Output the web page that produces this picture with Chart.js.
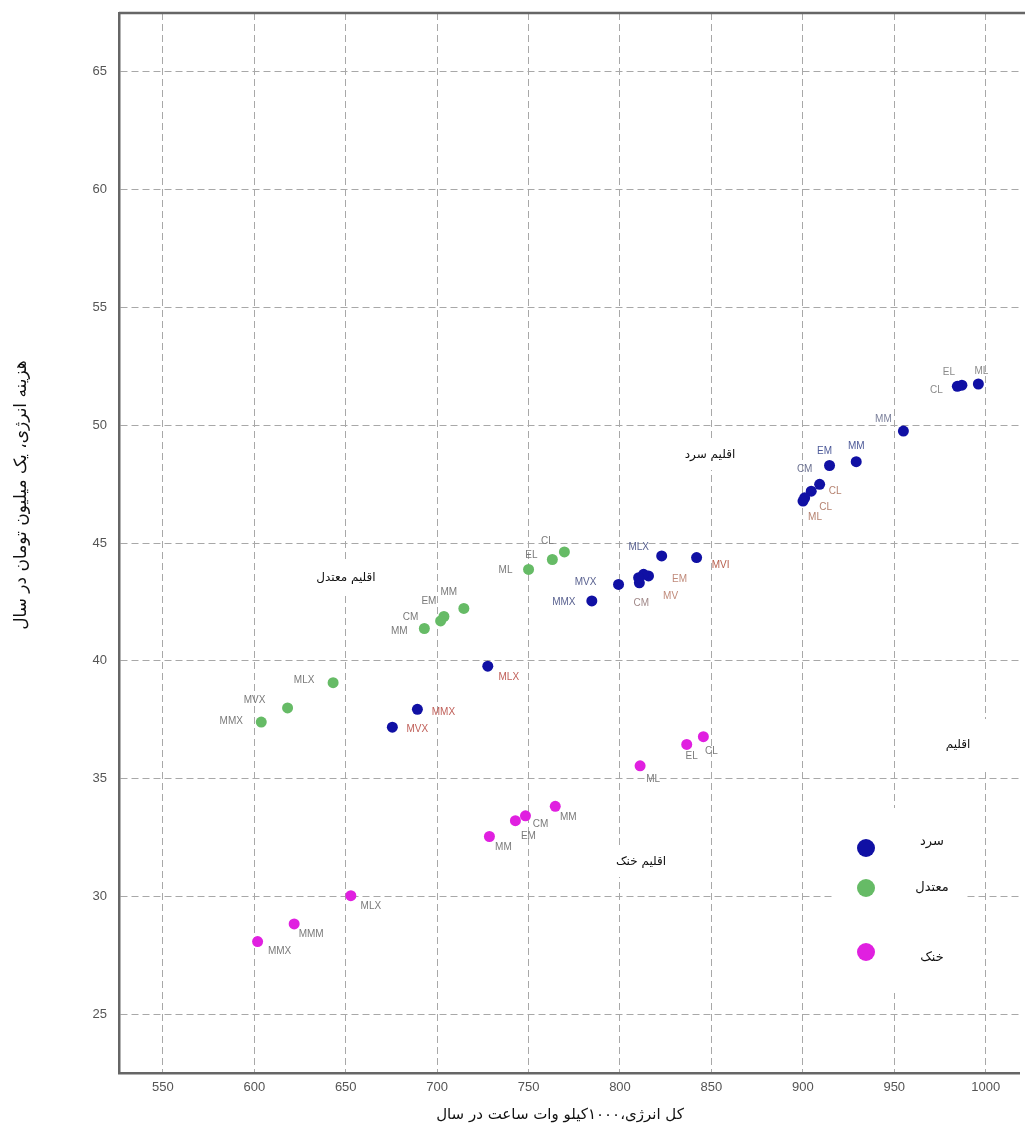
<!DOCTYPE html>
<html>
<head>
<meta charset="utf-8">
<script src="https://cdn.jsdelivr.net/npm/chart.js@4.4.0/dist/chart.umd.min.js"></script>
<style>
html,body{margin:0;padding:0;background:#fff;}
canvas{display:block;}
</style>
</head>
<body>
<canvas id="c" width="1025" height="1137"></canvas>
<script>
// ---- data ----
const xTicks = [550, 600, 650, 700, 750, 800, 850, 900, 950, 1000];
const yTicks = [25, 30, 35, 40, 45, 50, 55, 60, 65];

const seriesNames = ["سرد", "معتدل", "خنک"];

const coldX = [996, 987, 984.5, 955, 929.2, 914.6, 909.2, 904.6, 901, 900.1, 822.8, 841.9, 815.6, 812.9, 810.6, 810.2, 799.2, 784.6, 727.7, 689.2, 675.5];
const coldY = [51.75, 51.7, 51.65, 49.75, 48.45, 48.29, 47.49, 47.2, 46.92, 46.78, 44.45, 44.38, 43.6, 43.67, 43.31, 43.53, 43.24, 42.54, 39.77, 37.94, 37.18];
const coldLabels = ["ML", "EL", "CL", "MM", "MM", "EM", "CM", "CL", "CL", "ML", "MLX", "MVI", "EM", "MV", "CM", "", "MVX", "MMX", "MLX", "MMX", "MVX"];

const tempX = [769.6, 763, 750, 714.6, 703.7, 701.9, 693, 643.1, 618.2, 603.8];
const tempY = [44.62, 44.3, 43.88, 42.22, 41.88, 41.69, 41.37, 39.07, 38.0, 37.4];
const tempLabels = ["CL", "EL", "ML", "MM", "EM", "CM", "MM", "MLX", "MVX", "MMX"];

const coolX = [845.6, 836.5, 811, 764.6, 748.3, 742.8, 728.6, 652.8, 621.8, 601.8];
const coolY = [36.78, 36.45, 35.54, 33.82, 33.42, 33.21, 32.54, 30.03, 28.83, 28.08];
const coolLabels = ["CL", "EL", "ML", "MM", "CM", "EM", "MM", "MLX", "MMM", "MMX"];

const xTitle = "کل انرژی،۱۰۰۰کیلو وات ساعت در سال";
const yTitle = "هزینه انرژی، یک میلیون تومان در سال";
const legendTitle = "اقلیم";
const noteCold = "اقلیم سرد";
const noteTemp = "اقلیم معتدل";
const noteCool = "اقلیم خنک";

// ---- styles (label offsets in px, colours) ----
const coldOffsets = [[3,-13],[-13,-13],[-21,4],[-20,-12],[0,-15],[-5,-14],[-15,-15],[24,0],[21,9],[12,16],[-23,-9],[24,8],[31,3],[27,22],[2,20],[0,0],[-33,-2],[-28,1],[21,11],[26,3],[25,2]];
const coldLabelColors = ["#8a8a8a","#8a8a8a","#8a8a8a","#7a7f9a","#4d5a99","#4d5a99","#6a7090","#b58270","#b58270","#b58270","#5a6290","#b8604e","#c08a7a","#c08a7a","#a08888","#888","#5a6290","#5a6290","#c0605a","#c0605a","#c0605a"];
const tempOffsets = [[-17,-11],[-21,-4],[-23,1],[-15,-16],[-15,-15],[-30,-4],[-25,3],[-29,-2],[-33,-8],[-30,-1]];
const coolOffsets = [[8,15],[5,12],[13,13],[13,11],[15,8],[13,16],[14,11],[20,11],[17,10],[22,10]];

const colors = ["#1010a4", "#66bb66", "#e020e0"];

function pts(xs, ys){ return xs.map((x,i)=>({x:x, y:ys[i]})); }

const labelInfo = [
  {labels: coldLabels, offsets: coldOffsets, colors: coldLabelColors},
  {labels: tempLabels, offsets: tempOffsets, colors: null},
  {labels: coolLabels, offsets: coolOffsets, colors: null}
];

const PF = "'DejaVu Sans', sans-serif";

function whiteBoxText(ctx, text, cx, cy, w, h, size){
  ctx.save();
  ctx.fillStyle = "#fff";
  ctx.fillRect(cx - w/2, cy - h/2, w, h);
  ctx.fillStyle = "#111";
  ctx.font = size + "px " + PF;
  ctx.textAlign = "center";
  ctx.textBaseline = "middle";
  ctx.direction = "rtl";
  ctx.fillText(text, cx, cy);
  ctx.restore();
}

const decor = {
  id: "decor",
  beforeDraw(chart){
    const ctx = chart.ctx;
    ctx.save();
    ctx.fillStyle = "#fff";
    ctx.fillRect(0,0,chart.width,chart.height);
    ctx.restore();
  },
  beforeDatasetsDraw(chart){
    const ctx = chart.ctx;
    const a = chart.chartArea;
    ctx.save();
    ctx.strokeStyle = "#666";
    ctx.lineWidth = 2.5;
    ctx.beginPath();
    ctx.moveTo(a.left, a.top);
    ctx.lineTo(chart.width, a.top);
    ctx.stroke();
    ctx.restore();
    whiteBoxText(ctx, noteCold, 710, 455, 96, 30, 12);
    whiteBoxText(ctx, noteTemp, 346, 578, 96, 30, 12);
    whiteBoxText(ctx, noteCool, 641, 862, 90, 30, 12);
    whiteBoxText(ctx, legendTitle, 958, 745, 120, 52, 12);
    ctx.save();
    ctx.fillStyle = "#fff";
    ctx.fillRect(833, 808, 134, 185);
    const ly = [848, 888, 952];
    const ty = [842, 888, 958];
    for (let i = 0; i < 3; i++){
      ctx.beginPath();
      ctx.fillStyle = colors[i];
      ctx.arc(866, ly[i], 9, 0, Math.PI*2);
      ctx.fill();
      ctx.fillStyle = "#111";
      ctx.font = "13px " + PF;
      ctx.textAlign = "center";
      ctx.textBaseline = "middle";
      ctx.direction = "rtl";
      ctx.fillText(seriesNames[i], 932, ty[i]);
    }
    ctx.restore();
  },
  afterDatasetsDraw(chart){
    const ctx = chart.ctx;
    ctx.save();
    ctx.font = "10px 'Liberation Sans', sans-serif";
    ctx.textAlign = "center";
    ctx.textBaseline = "middle";
    chart.data.datasets.forEach((ds, di) => {
      const meta = chart.getDatasetMeta(di);
      const info = labelInfo[di];
      meta.data.forEach((el, i) => {
        const t = info.labels[i];
        if (!t) return;
        const o = info.offsets[i];
        ctx.fillStyle = info.colors ? info.colors[i] : "#7a7a7a";
        ctx.fillText(t, el.x + o[0], el.y + o[1]);
      });
    });
    ctx.restore();
    ctx.save();
    ctx.fillStyle = "#111";
    ctx.textAlign = "center";
    ctx.textBaseline = "middle";
    ctx.direction = "rtl";
    ctx.font = "15px " + PF;
    ctx.fillText(xTitle, 560, 1115);
    ctx.font = "17px " + PF;
    ctx.translate(22, 495);
    ctx.rotate(-Math.PI/2);
    ctx.fillText(yTitle, 0, 0);
    ctx.restore();
  }
};

new Chart(document.getElementById("c"), {
  type: "scatter",
  data: {
    datasets: [
      {label: seriesNames[0], data: pts(coldX, coldY), backgroundColor: colors[0], borderWidth: 0, pointRadius: 5.5},
      {label: seriesNames[1], data: pts(tempX, tempY), backgroundColor: colors[1], borderWidth: 0, pointRadius: 5.5},
      {label: seriesNames[2], data: pts(coolX, coolY), backgroundColor: colors[2], borderWidth: 0, pointRadius: 5.5}
    ]
  },
  options: {
    responsive: false,
    animation: false,
    layout: {padding: {top: 13, right: 2, left: 0, bottom: 0}},
    plugins: {legend: {display: false}, tooltip: {enabled: false}},
    scales: {
      x: {
        type: "linear",
        min: 526, max: 1018.5,
        afterBuildTicks(s){ s.ticks = xTicks.map(v => ({value: v})); },
        afterFit(s){ s.height = 64; s.paddingLeft = 0; s.paddingRight = 0; },
        grid: {color: "#a8a8a8", lineWidth: 1, drawTicks: false},
        border: {display: true, color: "#666", width: 2.5, dash: [7, 4]},
        ticks: {color: "#555", font: {family: "'Liberation Sans', sans-serif", size: 13}, padding: 7, maxRotation: 0, callback: v => String(v)}
      },
      y: {
        type: "linear",
        min: 22.5, max: 67.5,
        afterBuildTicks(s){ s.ticks = yTicks.map(v => ({value: v})); },
        afterFit(s){ s.width = 119; s.paddingTop = 0; s.paddingBottom = 0; },
        grid: {color: "#a8a8a8", lineWidth: 1, drawTicks: false},
        border: {display: true, color: "#666", width: 2.5, dash: [7, 4]},
        ticks: {color: "#555", font: {family: "'Liberation Sans', sans-serif", size: 13}, padding: 12, callback: v => String(v)}
      }
    }
  },
  plugins: [decor]
});
</script>
</body>
</html>
